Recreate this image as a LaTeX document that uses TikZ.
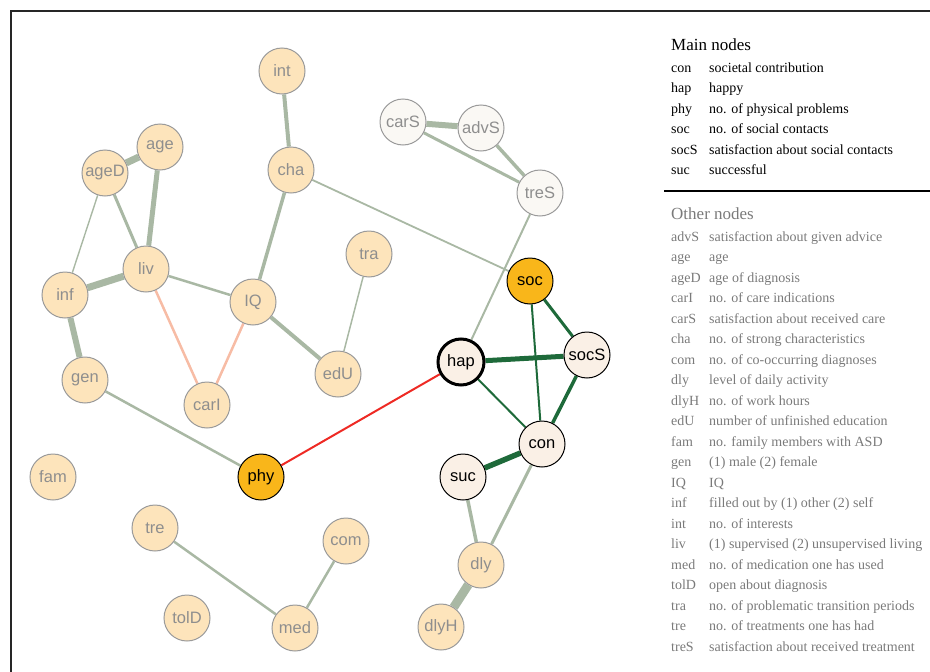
\documentclass[tikz,border=0pt]{standalone}
\usepackage{fontspec}
\setmainfont{Liberation Serif}
\newfontfamily\nodefont{Liberation Sans}
\usetikzlibrary{backgrounds}
\definecolor{edgeG}{HTML}{A9B8A4}
\definecolor{salm}{HTML}{F7BCA5}
\definecolor{redE}{HTML}{EE2A24}
\definecolor{dkG}{HTML}{1E6A3A}
\definecolor{peach}{HTML}{FDE4BB}
\definecolor{nbord}{HTML}{9A9A9A}
\definecolor{ntext}{HTML}{8E8E8E}
\definecolor{offw}{HTML}{FAF8F4}
\definecolor{mainf}{HTML}{FAF0E6}
\definecolor{yel}{HTML}{F9B61A}
\definecolor{legG}{HTML}{7A7A7A}
\tikzset{
  base/.style={circle, minimum size=46pt, inner sep=0pt, font=\nodefont\fontsize{16.5}{18}\selectfont},
  other/.style={base, fill=peach, draw=nbord, line width=1pt, text=ntext},
  sat/.style={base, fill=offw, draw=nbord, line width=1pt, text=ntext},
  mainL/.style={base, fill=mainf, draw=black, line width=1pt, text=black},
  mainY/.style={base, fill=yel, draw=black, line width=1pt, text=black},
  eg/.style={draw=edgeG},
  es/.style={draw=salm},
  ed/.style={draw=dkG},
  legM/.style={anchor=base west, inner sep=0pt, font=\fontsize{14}{16}\selectfont},
  legO/.style={anchor=base west, inner sep=0pt, text=legG, font=\fontsize{14}{16}\selectfont},
}
\begin{document}
\begin{tikzpicture}[x=1pt,y=-1pt]
\useasboundingbox (0,0) rectangle (930,672);
\draw[line width=1.5pt, color=black!85] (11,672) coordinate (fb) -- (11,11) coordinate (fc) -- (930,11) coordinate (fd);
% nodes
\node[other] (int) at (282,71) {int};
\node[other] (age) at (160,147) {age};
\node[other] (ageD) at (105,173) {ageD};
\node[other] (cha) at (291,170) {cha};
\node[sat] (carS) at (403,122) {carS};
\node[sat] (advS) at (481,128) {advS};
\node[sat] (treS) at (540,193) {treS};
\node[other] (tra) at (369,254) {tra};
\node[other] (liv) at (146,269) {liv};
\node[other] (inf) at (65,295) {inf};
\node[other] (IQ) at (253,302) {IQ};
\node[mainY] (soc) at (530,281) {soc};
\node[mainL] (socS) at (587,355) {socS};
\node[mainL, line width=3pt] (hap) at (461,362) {hap};
\node[other] (edU) at (338,374) {edU};
\node[other] (gen) at (85,380) {gen};
\node[other] (carI) at (207,405) {carI};
\node[mainL] (con) at (542,444) {con};
\node[mainL] (suc) at (463,477) {suc};
\node[other] (fam) at (53,477) {fam};
\node[mainY] (phy) at (261,477) {phy};
\node[other] (tre) at (155,528) {tre};
\node[other] (com) at (346,541) {com};
\node[other] (dly) at (481,565) {dly};
\node[other] (tolD) at (187,618) {tolD};
\node[other] (med) at (295,628) {med};
\node[other] (dlyH) at (441,627) {dlyH};
% edges
\begin{pgfonlayer}{background}
\draw[eg, line width=4pt] (int) -- (cha);
\draw[eg, line width=7pt] (age) -- (ageD);
\draw[eg, line width=5pt] (age) -- (liv);
\draw[eg, line width=3pt] (ageD) -- (liv);
\draw[eg, line width=1.4pt] (ageD) -- (inf);
\draw[eg, line width=7pt] (inf) -- (liv);
\draw[eg, line width=6pt] (inf) -- (gen);
\draw[eg, line width=2.5pt] (liv) -- (IQ);
\draw[eg, line width=3.5pt] (cha) -- (IQ);
\draw[eg, line width=4pt] (IQ) -- (edU);
\draw[eg, line width=1.5pt] (tra) -- (edU);
\draw[eg, line width=1.8pt] (cha) -- (soc);
\draw[eg, line width=6pt] (carS) -- (advS);
\draw[eg, line width=3pt] (carS) -- (treS);
\draw[eg, line width=3.5pt] (advS) -- (treS);
\draw[eg, line width=2pt] (treS) -- (hap);
\draw[eg, line width=2.5pt] (gen) -- (phy);
\draw[eg, line width=2.5pt] (tre) -- (med);
\draw[eg, line width=2.5pt] (com) -- (med);
\draw[eg, line width=3pt] (con) -- (dly);
\draw[eg, line width=3.5pt] (suc) -- (dly);
\draw[eg, line width=9pt] (dly) -- (dlyH);
\draw[es, line width=2.5pt] (liv) -- (carI);
\draw[es, line width=2.5pt] (IQ) -- (carI);
\draw[draw=redE, line width=2pt] (phy) -- (hap);
\draw[ed, line width=5pt] (hap) -- (socS);
\draw[ed, line width=2pt] (hap) -- (con);
\draw[ed, line width=3pt] (soc) -- (socS);
\draw[ed, line width=2pt] (soc) -- (con);
\draw[ed, line width=3.5pt] (socS) -- (con);
\draw[ed, line width=5.5pt] (suc) -- (con);
\end{pgfonlayer}
% legend
\node[anchor=base west, inner sep=0pt, font=\fontsize{17}{19}\selectfont] (hM) at (671,50) {Main nodes};
\foreach \a/\b/\y [count=\i] in {con/societal contribution/72, hap/happy/92, phy/no. of physical problems/113, soc/no. of social contacts/133, socS/satisfaction about social contacts/154, suc/successful/174}{
  \node[legM] (ma\i) at (671,\y) {\a};
  \node[legM] (md\i) at (709,\y) {\b};
}
\draw[line width=2pt] (664,191) coordinate (la) -- (930,191) coordinate (lb);
\node[anchor=base west, inner sep=0pt, text=legG, font=\fontsize{17}{19}\selectfont] (hO) at (671,219) {Other nodes};
\foreach \a/\b/\y [count=\i] in {advS/satisfaction about given advice/241, age/age/261.5, ageD/age of diagnosis/282, carI/no. of care indications/302.5, carS/satisfaction about received care/323, cha/no. of strong characteristics/343.5, com/no. of co-occurring diagnoses/364, dly/level of daily activity/384.5, dlyH/no. of work hours/405, edU/number of unfinished education/425.5, fam/no. family members with ASD/446, gen/(1) male (2) female/466.5, IQ/IQ/487, inf/filled out by (1) other (2) self/507.5, int/no. of interests/528, liv/(1) supervised (2) unsupervised living/548.5, med/no. of medication one has used/569, tolD/open about diagnosis/589.5, tra/no. of problematic transition periods/610, tre/no. of treatments one has had/630.5, treS/satisfaction about received treatment/651}{
  \node[legO] (oa\i) at (671,\y) {\a};
  \node[legO] (od\i) at (709,\y) {\b};
}
\end{tikzpicture}
\end{document}
